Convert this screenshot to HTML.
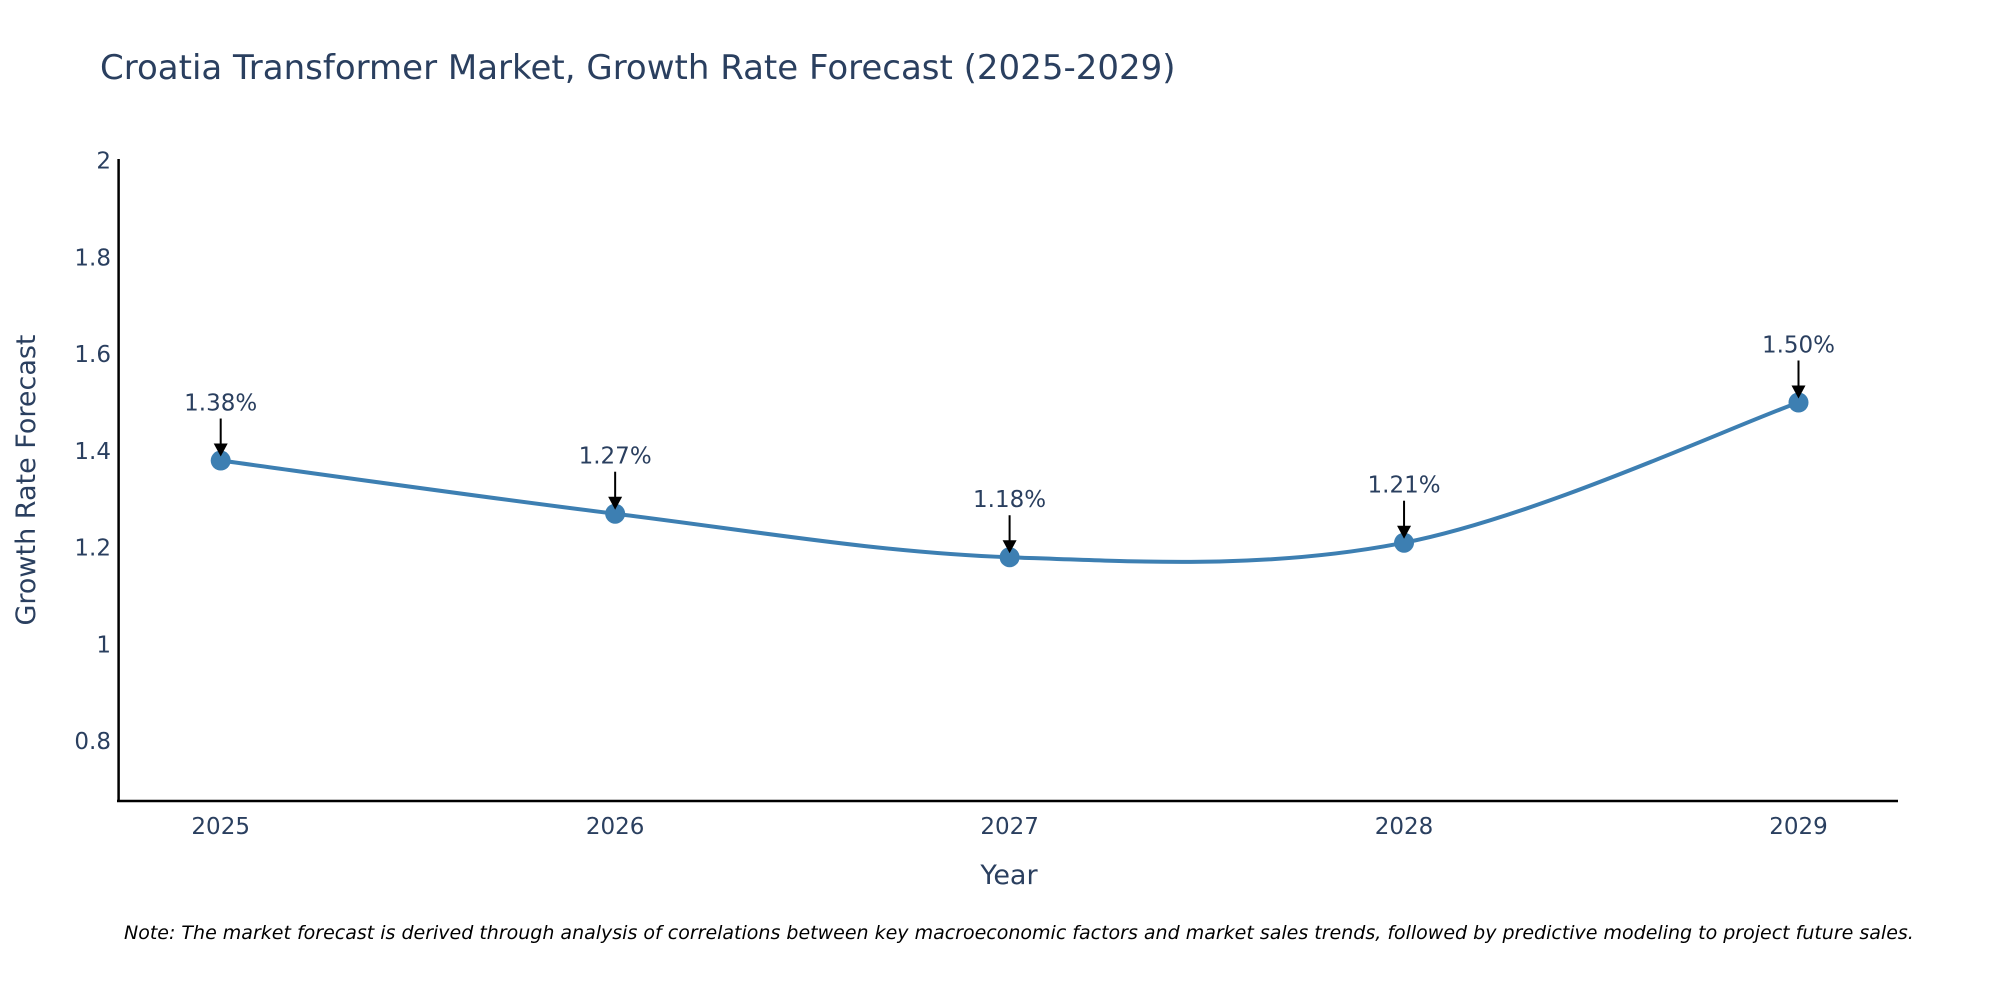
<!DOCTYPE html>
<html><head><meta charset="utf-8"><style>
html,body{margin:0;padding:0;background:#fff;}
svg{display:block;font-family:"DejaVu Sans","Liberation Sans",sans-serif;}
</style></head><body>
<svg id="chart" width="2000" height="1000" viewBox="0 0 2000 1000">
<rect width="2000" height="1000" fill="#fff"/>
<text x="100" y="79" font-size="34" fill="#2a3f5f">Croatia Transformer Market, Growth Rate Forecast (2025-2029)</text>
<g id="yticks"></g>
<g id="xticks"></g>
<line x1="118.6" y1="159" x2="118.6" y2="802" stroke="#000" stroke-width="2.5"/>
<line x1="117" y1="801" x2="1898" y2="801" stroke="#000" stroke-width="2.5"/>
<text x="0" y="0" transform="translate(35,480) rotate(-90)" text-anchor="middle" font-size="27" fill="#2a3f5f">Growth Rate Forecast</text>
<text x="1009" y="884" text-anchor="middle" font-size="27" fill="#2a3f5f">Year</text>
<path id="line" fill="none" stroke="#3d7fb2" stroke-width="4"/>
<g id="points"></g>
<g id="annots"></g>
<text x="124" y="939" font-size="19" font-style="italic" fill="#000">Note: The market forecast is derived through analysis of correlations between key macroeconomic factors and market sales trends, followed by predictive modeling to project future sales.</text>
</svg>
<script>
const years = [2025, 2026, 2027, 2028, 2029];
const values = [1.38, 1.27, 1.18, 1.21, 1.50];
const labels = ["1.38%", "1.27%", "1.18%", "1.21%", "1.50%"];
const yTicks = [0.8, 1, 1.2, 1.4, 1.6, 1.8, 2];
const yTickLabels = ["0.8", "1", "1.2", "1.4", "1.6", "1.8", "2"];

const NS = "http://www.w3.org/2000/svg";
function xs(v){ return 220.7 + (v - 2025) * 394.45; }
function ys(v){ return 741 - (v - 0.8) * (741 - 160.7) / 1.2; }
function mk(tag, attrs, parent){
  const e = document.createElementNS(NS, tag);
  for (const k in attrs) e.setAttribute(k, attrs[k]);
  parent.appendChild(e); return e;
}
const yg = document.getElementById('yticks');
yTicks.forEach((t, i) => {
  const e = mk('text', {x: 111, y: ys(t) + 8, 'text-anchor': 'end', 'font-size': 23, fill: '#2a3f5f'}, yg);
  
  
  e.textContent = yTickLabels[i];
});
const xg = document.getElementById('xticks');
years.forEach(y => {
  const e = mk('text', {x: xs(y), y: 834, 'text-anchor': 'middle', 'font-size': 23, fill: '#2a3f5f'}, xg);
  
  
  e.textContent = String(y);
});
const P = years.map((y, i) => [xs(y), ys(values[i])]);
let d = `M${P[0][0]},${P[0][1]}`;
const t = 0.17;
for (let i = 0; i < P.length - 1; i++) {
  const p0 = P[Math.max(0, i - 1)], p1 = P[i], p2 = P[i + 1], p3 = P[Math.min(P.length - 1, i + 2)];
  const c1 = [p1[0] + (p2[0] - p0[0]) * t, p1[1] + (p2[1] - p0[1]) * t];
  const c2 = [p2[0] - (p3[0] - p1[0]) * t, p2[1] - (p3[1] - p1[1]) * t];
  d += ` C${c1[0]},${c1[1]} ${c2[0]},${c2[1]} ${p2[0]},${p2[1]}`;
}
document.getElementById('line').setAttribute('d', d);
const pg = document.getElementById('points');
const ag = document.getElementById('annots');
P.forEach((p, i) => {
  const c = mk('circle', {cx: p[0], cy: p[1], r: 10, fill: '#3d7fb2'}, pg);
  
  
  const l = mk('line', {x1: p[0], y1: p[1] - 42, x2: p[0], y2: p[1] - 14, stroke: '#000', 'stroke-width': 2}, ag);
  
  
  const h = mk('polygon', {points: `${p[0]-7},${p[1]-17} ${p[0]+7},${p[1]-17} ${p[0]},${p[1]-4}`, fill: '#000'}, ag);
  
  
  const tx = mk('text', {x: p[0], y: p[1] - 50, 'text-anchor': 'middle', 'font-size': 23, fill: '#2a3f5f'}, ag);
  
  
  tx.textContent = labels[i];
});
</script>
</body></html>
